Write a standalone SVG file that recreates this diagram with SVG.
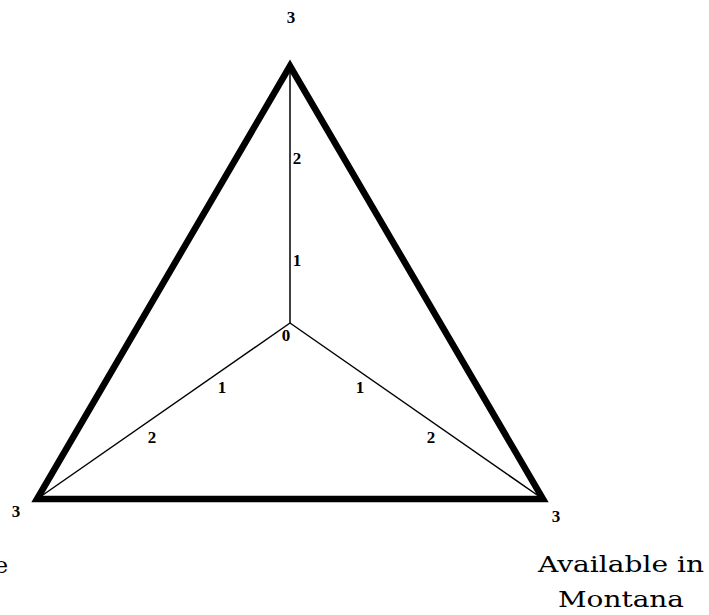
<svg xmlns="http://www.w3.org/2000/svg" width="709" height="615" viewBox="0 0 709 615">
<style>
.num{font-family:"Liberation Serif","Times New Roman",serif;font-weight:bold;font-size:17px;fill:#000;text-anchor:middle}
.lbl{font-family:"DejaVu Serif","Liberation Serif",serif;font-size:23px;fill:#000;text-anchor:middle}
.axis{stroke:#000;stroke-width:1.5;fill:none}
.tri{stroke:#000;stroke-width:6.5;fill:none;stroke-linejoin:miter;stroke-miterlimit:10}
</style>
<rect width="709" height="615" fill="#fff"/>
<g id="connectors">
<polygon class="tri" points="290,66 37,499 543,499"/>
<line class="axis" x1="290" y1="323" x2="290" y2="66"/>
<line class="axis" x1="290" y1="323" x2="40" y2="497"/>
<line class="axis" x1="290" y1="323" x2="540" y2="497"/>
</g>
<g id="top"><text class="num" x="291" y="23">3</text></g>
<g id="center"><text class="num" x="286" y="341">0</text></g>
<g id="v-labels">
<text class="num" x="297" y="164">2</text>
<text class="num" x="297" y="266">1</text>
</g>
<g id="l-labels">
<text class="num" x="222" y="393">1</text>
<text class="num" x="152" y="443">2</text>
</g>
<g id="r-labels">
<text class="num" x="360" y="393">1</text>
<text class="num" x="431" y="443">2</text>
</g>
<g id="bottom-left"><text class="num" x="16" y="517">3</text>
<text class="lbl" x="8" y="573" style="text-anchor:end">e</text></g>
<g id="bottom-right"><text class="num" x="556" y="522">3</text>
<text class="lbl" x="621" y="572" textLength="166" lengthAdjust="spacingAndGlyphs">Available in</text>
<text class="lbl" x="621" y="607" textLength="126" lengthAdjust="spacingAndGlyphs">Montana</text></g>
</svg>
